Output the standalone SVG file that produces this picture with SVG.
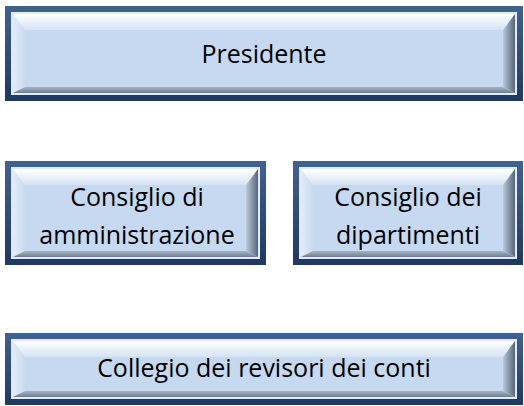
<svg xmlns="http://www.w3.org/2000/svg" width="524" height="406" viewBox="0 0 524 406">
<defs>
<linearGradient id="gBorder" x1="0" y1="0" x2="0" y2="1">
<stop offset="0" stop-color="#3F6190"/>
<stop offset="1" stop-color="#1E3A62"/>
</linearGradient>
<linearGradient id="gTop" x1="0" y1="0" x2="0" y2="1">
<stop offset="0" stop-color="#FFFFFF"/>
<stop offset="1" stop-color="#D5E3F4"/>
</linearGradient>
<linearGradient id="gLeft" x1="0" y1="0" x2="1" y2="0">
<stop offset="0" stop-color="#E3ECF8"/>
<stop offset="1" stop-color="#C9DAEF"/>
</linearGradient>
<linearGradient id="gRight" x1="0" y1="0" x2="1" y2="0">
<stop offset="0" stop-color="#BBC9DA"/>
<stop offset="1" stop-color="#56657A"/>
</linearGradient>
<linearGradient id="gBottom" x1="0" y1="0" x2="0" y2="1">
<stop offset="0" stop-color="#A7B4C4"/>
<stop offset="1" stop-color="#6F7E92"/>
</linearGradient>
</defs>
<style>
.border{fill:none;stroke:url(#gBorder);stroke-width:6}
.line{fill:#E2EBF6}
.bt{fill:url(#gTop)}
.bl{fill:url(#gLeft)}
.br{fill:url(#gRight)}
.bb{fill:url(#gBottom)}
.face{fill:#C6D9F1}
.label{font-family:"Open Sans","Liberation Sans",Arial,sans-serif;font-size:25px;fill:#000000;text-anchor:middle}
</style>
<g id="connectors"></g>
<g id="presidente">
<rect class="border" x="8" y="9" width="512" height="89"/>
<rect class="line" x="11" y="12" width="506" height="83"/>
<polygon class="bt" points="13,14 515,14 503,30 25,30"/>
<polygon class="bl" points="13,14 25,30 25,87 13,93"/>
<polygon class="br" points="515,14 515,93 503,87 503,30"/>
<polygon class="bb" points="13,93 25,87 503,87 515,93"/>
<rect class="face" x="25" y="30" width="478" height="57"/>
<text class="label" x="264" y="63">Presidente</text>
</g>
<g id="consiglio-amministrazione">
<rect class="border" x="8" y="164" width="255" height="98"/>
<rect class="line" x="11" y="167" width="249" height="92"/>
<polygon class="bt" points="13,169 258,169 246,185 25,185"/>
<polygon class="bl" points="13,169 25,185 25,251 13,257"/>
<polygon class="br" points="258,169 258,257 246,251 246,185"/>
<polygon class="bb" points="13,257 25,251 246,251 258,257"/>
<rect class="face" x="25" y="185" width="221" height="66"/>
<text class="label" x="137" y="206">Consiglio di</text>
<text class="label" x="137" y="244">amministrazione</text>
</g>
<g id="consiglio-dipartimenti">
<rect class="border" x="296" y="164" width="224" height="98"/>
<rect class="line" x="299" y="167" width="218" height="92"/>
<polygon class="bt" points="301,169 515,169 503,185 313,185"/>
<polygon class="bl" points="301,169 313,185 313,251 301,257"/>
<polygon class="br" points="515,169 515,257 503,251 503,185"/>
<polygon class="bb" points="301,257 313,251 503,251 515,257"/>
<rect class="face" x="313" y="185" width="190" height="66"/>
<text class="label" x="408" y="206">Consiglio dei</text>
<text class="label" x="408" y="244">dipartimenti</text>
</g>
<g id="collegio-revisori">
<rect class="border" x="8" y="336" width="512" height="66"/>
<rect class="line" x="11" y="339" width="506" height="60"/>
<polygon class="bt" points="13,341 515,341 503,357 25,357"/>
<polygon class="bl" points="13,341 25,357 25,391 13,397"/>
<polygon class="br" points="515,341 515,397 503,391 503,357"/>
<polygon class="bb" points="13,397 25,391 503,391 515,397"/>
<rect class="face" x="25" y="357" width="478" height="34"/>
<text class="label" x="264" y="377">Collegio dei revisori dei conti</text>
</g>
</svg>
